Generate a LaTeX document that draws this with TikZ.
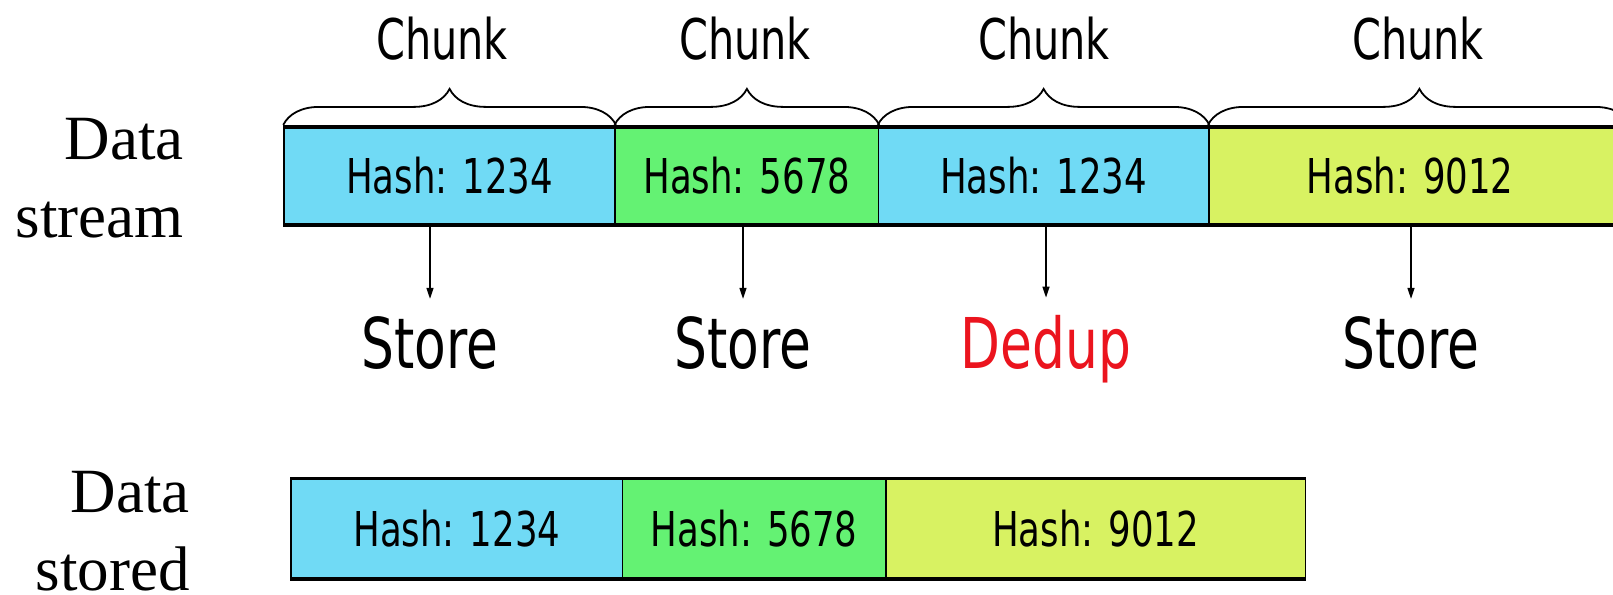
\documentclass[tikz,border=0pt]{standalone}
\usepackage{fontspec}
\setmainfont{Liberation Serif}
\newfontfamily\cond[FakeStretch=0.74]{DejaVu Sans}
\usetikzlibrary{decorations.pathreplacing,arrows.meta}
\definecolor{cblue}{RGB}{112,218,245}
\definecolor{cgreen}{RGB}{100,242,115}
\definecolor{cyellow}{RGB}{216,242,98}
\definecolor{dedupred}{RGB}{235,20,30}
\tikzset{
  hashbox/.style={draw=black, line width=1.5pt, inner sep=0pt,
    font=\cond\fontsize{48}{56}\selectfont},
  chunklabel/.style={inner sep=0pt, font=\cond\fontsize{56}{64}\selectfont},
  action/.style={inner sep=0pt, anchor=base, font=\cond\fontsize{70}{80}\selectfont},
  sidelabel/.style={inner sep=0pt, anchor=base east, font=\fontsize{63}{72}\selectfont},
  chunkbrace/.style={decorate, decoration={brace, amplitude=36pt, raise=2pt}, line width=1.8pt},
  arr/.style={-{Triangle[length=11pt,width=7pt]}, line width=1.4pt, shorten >=17pt},
  edge/.style={line width=3.5pt}
}
\begin{document}
\begin{tikzpicture}[x=1pt,y=-1pt]
\useasboundingbox (0,0) rectangle (1613,594);
\clip (0,0) rectangle (1613,594);
\fill[white] (0,0) rectangle (1613,594);

% side labels
\node[sidelabel] (ds1) at (184,159.5) {Data};
\node[sidelabel] (ds2) at (184,237.5) {stream};
\node[sidelabel] (dt1) at (190,512) {Data};
\node[sidelabel] (dt2) at (190,590) {stored};

% data stream boxes
\node[hashbox, fill=cblue,  minimum width=331.2pt, minimum height=96.7pt] (b1) at (449.6,176) {Hash: 1234};
\node[hashbox, fill=cgreen, minimum width=263.3pt, minimum height=96.7pt] (b2) at (746.9,176) {Hash: 5678};
\node[hashbox, fill=cblue,  minimum width=330.2pt, minimum height=96.7pt] (b3) at (1043.6,176) {Hash: 1234};
\node[hashbox, fill=cyellow,minimum width=421.3pt, minimum height=96.7pt] (b4) at (1419.4,176) {};
\node[font=\cond\fontsize{48}{56}\selectfont, inner sep=0pt] (b4t) at (1410,176) {Hash: 9012};
\draw[edge] (b1.north west) -- (b4.north east);
\draw[edge] (b1.south west) -- (b4.south east);

% braces and chunk labels
\draw[chunkbrace] (b1.north west) -- (b1.north east);
\draw[chunkbrace] (b2.north west) -- (b2.north east);
\draw[chunkbrace] (b3.north west) -- (b3.north east);
\draw[chunkbrace] (b4.north west) -- (b4.north east);
\node[chunklabel] (c1) at (442,39) {Chunk};
\node[chunklabel] (c2) at (745,39) {Chunk};
\node[chunklabel] (c3) at (1044,39) {Chunk};
\node[chunklabel] (c4) at (1418,39) {Chunk};

% actions
\node[action] (s1) at (430,368) {Store};
\node[action] (s2) at (743,368) {Store};
\node[action, text=dedupred] (s3) at (1046,368) {Dedup};
\node[action] (s4) at (1411,368) {Store};
\draw[arr] (b1.south -| s1) -- (s1.north);
\draw[arr] (b2.south -| s2) -- (s2.north);
\draw[arr] (b3.south -| s3) -- (s3.north);
\draw[arr] (b4.south -| s4) -- (s4.north);

% data stored boxes
\node[hashbox, fill=cblue,  minimum width=331.3pt, minimum height=98.7pt] (d1) at (456.8,528.8) {Hash: 1234};
\node[hashbox, fill=cgreen, minimum width=263.3pt, minimum height=98.7pt] (d2) at (754,528.8) {Hash: 5678};
\node[hashbox, fill=cyellow,minimum width=419.7pt, minimum height=98.7pt] (d3) at (1095.6,528.8) {Hash: 9012};
\draw[edge] (d1.north west) -- (d3.north east);
\draw[edge] (d1.south west) -- (d3.south east);
\end{tikzpicture}
\end{document}
